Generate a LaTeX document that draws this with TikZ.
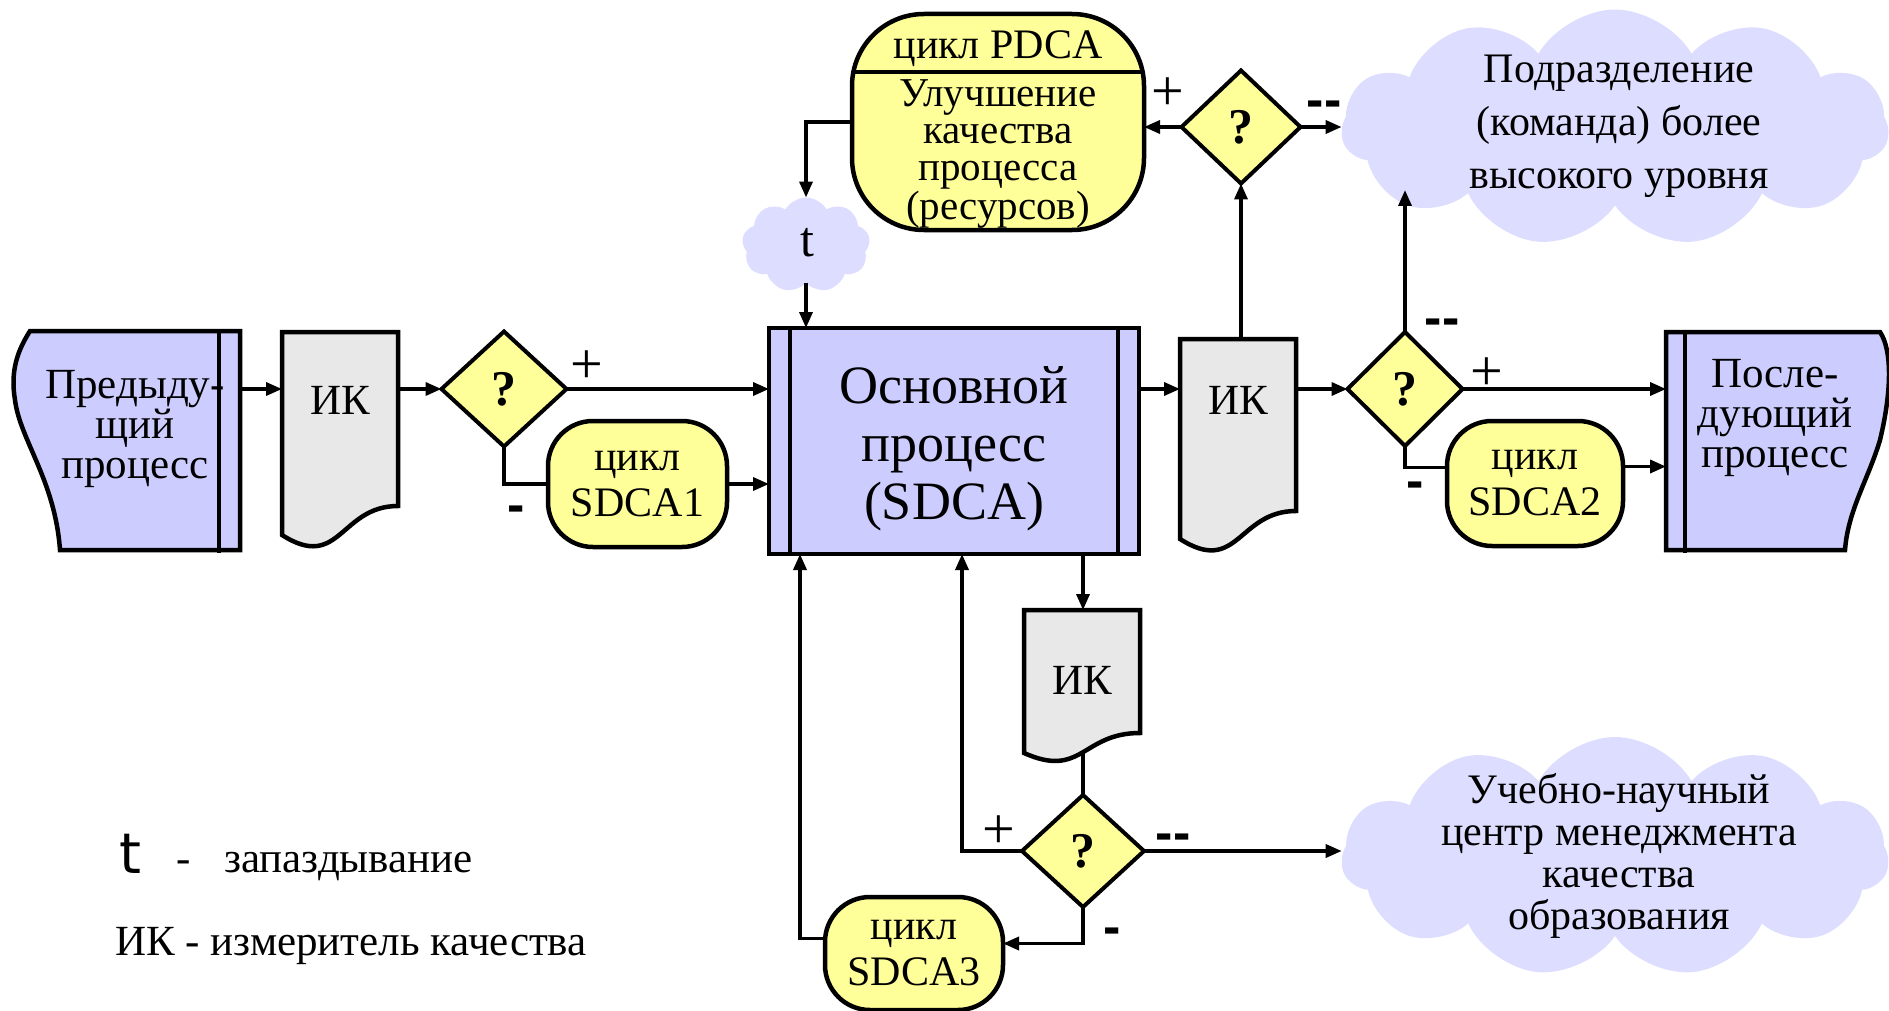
\documentclass[tikz,border=0pt]{standalone}
\usepackage{fontspec}
\setmainfont{Liberation Serif}
\newfontfamily\lsans{Liberation Sans}
\newfontfamily\dsans{DejaVu Sans}
\usetikzlibrary{shapes.geometric,shapes.symbols,arrows.meta,calc}
\definecolor{procblue}{HTML}{CCCCFF}
\definecolor{cloudblue}{HTML}{DDDDFF}
\definecolor{ylw}{HTML}{FFFF99}
\definecolor{docgray}{HTML}{E8E8E8}
\begin{document}
\begin{tikzpicture}[x=1pt,y=-1pt,
  arr/.style={line width=3.5pt,-{Triangle[length=16pt,width=13pt]}},
  conn/.style={line width=3.5pt},
  outline/.style={draw,line width=4.5pt,line join=miter},
  txt/.style={font=\fontsize{43}{40}\selectfont,align=center,inner sep=0pt,outer sep=0pt},
  dia/.style={diamond,draw,line width=4pt,fill=ylw,inner sep=0pt,outer sep=0pt,font=\bfseries\fontsize{50}{50}\selectfont},
  cyc/.style={rectangle,rounded corners=45pt,draw,line width=4.5pt,fill=ylw,align=center,inner sep=0pt,outer sep=0pt,font=\fontsize{42}{46}\selectfont},
  cloudnode/.style={cloud,cloud puffs=11,cloud puff arc=120,cloud ignores aspect,fill=cloudblue,draw=none,inner sep=0pt,outer sep=0pt},
  plus/.style={font=\fontsize{58}{58}\selectfont,inner sep=0pt},
  minus/.style={font=\lsans\bfseries\fontsize{52}{52}\selectfont,inner sep=0pt,anchor=base},
  hidden/.style={draw=none,inner sep=0pt,outer sep=0pt}
]
\useasboundingbox (0,0) rectangle (1889,1011);
\fill[white] (0,0) rectangle (1889,1011);

% clouds
\node[cloudnode,minimum width=547pt,minimum height=237pt] (cl1) at (1615,128) {};
\node[txt,font=\fontsize{42}{53}\selectfont] (cl1t) at (1619,126) {Подразделение\\(команда) более\\высокого уровня};
\node[cloudnode,minimum width=547pt,minimum height=240pt] (cl2) at (1615,857) {};
\node[txt,font=\fontsize{42}{42}\selectfont] (cl2t) at (1619,856) {Учебно-научный\\центр менеджмента\\качества\\образования};
\node[cloudnode,cloud puffs=9,minimum width=128pt,minimum height=95pt] (tc) at (806,245) {};
\node[inner sep=0pt,font=\fontsize{50}{50}\selectfont] (tct) at (807,243) {t};

% previous process
\path[outline,fill=procblue] (30,331) -- (240,331) -- (240,550) -- (60,550)
  .. controls (55,480) and (20,440) .. (15,400) .. controls (10,370) and (18,350) .. (30,331) -- cycle;
\draw[line width=4.5pt] (219,331) -- (219,553);
\node[hidden,minimum width=226pt,minimum height=219pt] (prev) at (127,440.5) {};
\node[txt] (prevt) at (135,429) {Предыду-\\щий\\процесс};

% next process
\path[outline,fill=procblue] (1666,332) -- (1880,332)
  .. controls (1892,350) and (1892,390) .. (1880,440) .. controls (1868,480) and (1848,510) .. (1845,550)
  -- (1666,550) -- cycle;
\draw[line width=4.5pt] (1685,332) -- (1685,553);
\node[hidden,minimum width=214pt,minimum height=218pt] (next) at (1773,441) {};
\node[txt] (nextt) at (1775,418) {После-\\дующий\\процесс};

% main process
\node[rectangle,draw,line width=4.5pt,fill=procblue,minimum width=370pt,minimum height=226pt,inner sep=0pt,outer sep=0pt] (main) at (954,441) {};
\draw[line width=4.5pt] ([xshift=21pt]main.north west) -- ([xshift=21pt]main.south west);
\draw[line width=4.5pt] ([xshift=-21pt]main.north east) -- ([xshift=-21pt]main.south east);
\node[txt,font=\fontsize{54}{58}\selectfont] (maint) at (954,449) {Основной\\процесс\\(SDCA)};

% quality meters (documents)
\path[outline,fill=docgray] (282,332) -- (398,332) -- (398,506) .. controls (340,506) and (340,572) .. (282,535) -- cycle;
\node[txt,minimum width=116pt] (ik1) at (340,400) {ИК};
\path[outline,fill=docgray] (1180,339) -- (1296,339) -- (1296,511) .. controls (1238,511) and (1238,576) .. (1180,539) -- cycle;
\node[txt,minimum width=116pt] (ik2) at (1238,400) {ИК};
\coordinate (ik2top) at (1241,339);
\path[outline,fill=docgray] (1024,610) -- (1140,610) -- (1140,733) .. controls (1082,733) and (1082,779) .. (1024,753) -- cycle;
\node[txt,minimum width=116pt] (ik3) at (1082,680) {ИК};
\coordinate (ik3top) at (1083,610);
\coordinate (ik3bot) at (1083,753);

% PDCA
\node[draw,line width=4.5pt,fill=ylw,rounded corners=72pt,minimum width=292pt,minimum height=216pt,inner sep=0pt,outer sep=0pt] (pdca) at (998,122) {};
\draw[line width=4.5pt] (854,72) -- (1142,72);
\node[inner sep=0pt,font=\fontsize{42}{42}\selectfont] (pdcah) at (998,49) {цикл PDCA};
\node[txt,font=\fontsize{41}{37}\selectfont] (pdcab) at (998,154) {Улучшение\\качества\\процесса\\(ресурсов)};

% decisions
\node[dia,minimum width=125pt,minimum height=115pt] (d1) at (504,389) {?};
\node[dia,minimum width=115pt,minimum height=114pt] (d2) at (1405,389) {?};
\node[dia,minimum width=122pt,minimum height=112pt] (d3) at (1083,851) {?};
\node[dia,minimum width=119pt,minimum height=113pt] (dt) at (1241,127) {?};

% SDCA cycles
\node[cyc,minimum width=179pt,minimum height=126pt] (s1) at (637.5,484) {цикл\\SDCA1};
\node[cyc,minimum width=176pt,minimum height=125pt] (s2) at (1535,483.5) {цикл\\SDCA2};
\node[cyc,minimum width=178pt,minimum height=113pt] (s3) at (914,953.5) {цикл\\SDCA3};

% connectors
\draw[arr] (prev.east |- d1) -- (ik1.west |- d1);
\draw[arr] (ik1.east |- d1) -- (d1.west);
\draw[arr] (d1.east) -- (d1.east -| main.west);
\draw[conn] (d1.south) |- (s1.west);
\draw[arr] (s1.east) -- (s1.east -| main.west);
\draw[arr] (main.east |- d2) -- (ik2.west |- d2);
\draw[arr] (ik2.east |- d2) -- (d2.west);
\draw[arr] (d2.east) -- (d2.east -| next.west);
\coordinate (s2in) at ($(s2.west)+(0,-16)$);
\coordinate (s2out) at ($(s2.east)+(0,-17)$);
\draw[conn] (d2.south) |- (s2in);
\draw[arr] (s2out) -- (s2out -| next.west);
\coordinate (cl1b) at (1405,190);
\draw[arr] (d2.north) -- (cl1b);
\draw[arr] (ik2top) -- (dt.south);
\draw[arr] (dt.west) -- (dt.west -| pdca.east);
\draw[arr] (dt.east) -- (dt.east -| cl1.west);
\draw[arr] (pdca.west) -| (tc.north);
\draw[arr] (tc.south) -- (tc.south |- main.north);
\draw[arr] (main.south -| ik3top) -- (ik3top);
\draw[conn] (ik3bot) -- (d3.north);
\coordinate (mainin3) at (962,554);
\coordinate (mainin4) at (800,554);
\draw[arr] (d3.west) -| (mainin3);
\draw[arr] (d3.east) -- (d3.east -| cl2.west);
\coordinate (s3in) at ($(s3.east)+(0,-10)$);
\coordinate (s3out) at ($(s3.west)+(0,-15)$);
\draw[arr] (d3.south) |- (s3in);
\draw[arr] (s3out) -| (mainin4);

% branch labels
\node[plus] (p1) at (587,367) {+};
\node[minus] (m1) at (516,522) {-};
\node[plus] (p2) at (1487,374) {+};
\node[minus] (m2) at (1415,498) {-};
\node[minus] (mm2) at (1442,335) {-{}-};
\node[plus] (pt) at (1168,94) {+};
\node[minus] (mmt) at (1324,118) {-{}-};
\node[plus] (p3) at (999,832) {+};
\node[minus] (mm3) at (1173,850) {-{}-};
\node[minus] (m3) at (1112,944) {-};

% legend
\node[anchor=base,inner sep=0pt,font=\dsans\fontsize{56}{56}\selectfont] (lgt) at (130,873) {t};
\node[anchor=base,inner sep=0pt,font=\fontsize{43}{43}\selectfont] (lgd) at (184,872) {-};
\node[anchor=base west,inner sep=0pt,font=\fontsize{43}{43}\selectfont] (lgz) at (224,872) {запаздывание};
\node[anchor=base west,inner sep=0pt,font=\fontsize{43}{43}\selectfont] (lgik) at (115,955) {ИК - измеритель качества};
\end{tikzpicture}
\end{document}
